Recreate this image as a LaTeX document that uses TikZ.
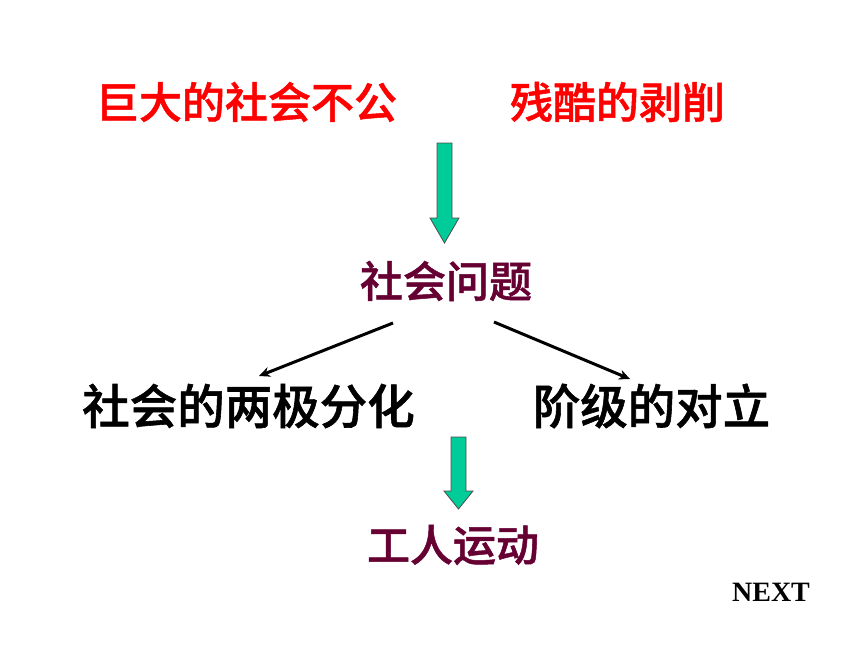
\documentclass[tikz,border=0pt]{standalone}
\usepackage{fontspec}
\newfontfamily\cjk[FakeBold=1.2]{Noto Sans CJK SC Medium}
\newfontfamily\nextfont{Liberation Serif}
\usetikzlibrary{arrows.meta}
\definecolor{redtxt}{HTML}{FF0000}
\definecolor{maroon}{HTML}{660033}
\definecolor{blockgreen}{HTML}{00CC99}
\tikzset{
  lbl/.style={inner sep=0pt, anchor=center},
  bigred/.style={lbl, text=redtxt, font=\cjk\fontsize{43}{43}\selectfont},
  mid/.style={lbl, text=maroon, font=\cjk\fontsize{43}{43}\selectfont},
  blk/.style={lbl, text=black, font=\cjk\fontsize{47.5}{47.5}\selectfont},
  thinarrow/.style={line width=3pt, -{Stealth[length=11pt,width=10pt]}},
  blockarrow/.style={fill=blockgreen, draw=black!70, line width=0.8pt, line join=miter}
}
\begin{document}
\begin{tikzpicture}[x=1pt,y=-1pt]
\useasboundingbox (0,0) rectangle (860,645);
\node[bigred] (t1) at (246.5,102) {巨大的社会不公};
\node[bigred] (t2) at (617.5,102) {残酷的剥削};
\node[mid] (t3) at (446,281) {社会问题};
\node[blk] (l) at (248.5,406) {社会的两极分化};
\node[blk] (r) at (651.5,406) {阶级的对立};
\node[mid] (t4) at (453,545) {工人运动};
\node[lbl, font=\nextfont\bfseries\fontsize{28}{28}\selectfont] (nx) at (771,592) {NEXT};
% block arrows
\draw[blockarrow] (437,143) -- (452,143) -- (452,218) -- (459,218) -- (444.5,243) -- (430,218) -- (437,218) -- cycle;
\draw[blockarrow] (451,437) -- (466,437) -- (466,491) -- (473,491) -- (458.5,509) -- (444,491) -- (451,491) -- cycle;
% thin arrows
\coordinate (la) at (393,323);
\coordinate (lb) at (259,376);
\coordinate (ra) at (494,322);
\coordinate (rb) at (630,379);
\draw[thinarrow] (la) -- (lb);
\draw[thinarrow] (ra) -- (rb);
\end{tikzpicture}
\end{document}
